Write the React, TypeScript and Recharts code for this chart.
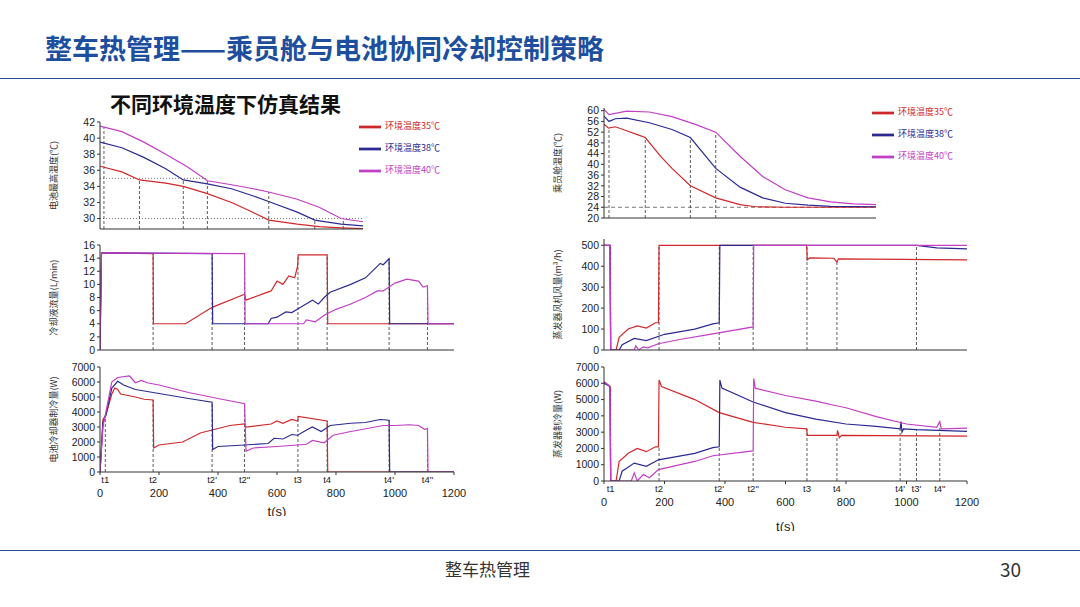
import React from "react";
import { Legend, Line, LineChart, ReferenceLine, XAxis, YAxis } from "recharts";

type Pt = [number, number];

const seriesNames = ["环境温度35℃", "环境温度38℃", "环境温度40℃"];
const colors = ["#d0282a", "#2b2a92", "#c23ec4"];
const xTicks = [0, 200, 400, 600, 800, 1000, 1200];

// left column: battery
const batTemp35: Pt[] = [[0, 36.5], [100, 35.8], [180, 34.8], [300, 34.4], [380, 34.0], [490, 33.1], [600, 32.0], [680, 31.0], [770, 29.8], [900, 29.3], [1000, 29.0], [1100, 28.85], [1200, 28.75]];
const batTemp38: Pt[] = [[0, 39.5], [100, 38.8], [200, 37.6], [300, 36.2], [380, 34.8], [490, 34.3], [600, 33.7], [700, 32.8], [800, 31.8], [900, 30.8], [980, 29.8], [1100, 29.3], [1200, 29.1]];
const batTemp40: Pt[] = [[0, 41.5], [100, 40.8], [200, 39.5], [300, 38.0], [400, 36.4], [490, 34.7], [600, 34.2], [700, 33.7], [770, 33.3], [900, 32.4], [1000, 31.4], [1100, 30.0], [1200, 29.6]];

const flow35: Pt[] = [[0, 0], [5, 14.8], [180, 14.7], [181, 4], [290, 4], [380, 6.5], [490, 8.5], [495, 7.6], [580, 9], [600, 10.5], [620, 10], [640, 11.3], [660, 11], [670, 12.8], [672, 14.5], [770, 14.5], [772, 4], [1200, 4]];
const flow38: Pt[] = [[0, 0], [5, 14.8], [380, 14.7], [382, 4], [570, 4], [580, 4.8], [600, 5], [630, 5.8], [650, 5.7], [680, 6.5], [720, 7.6], [740, 7], [760, 8], [780, 8.8], [850, 10], [900, 11], [950, 13.2], [960, 13], [980, 13.9], [982, 4], [1200, 4]];
const flow40: Pt[] = [[0, 0], [5, 14.8], [490, 14.7], [492, 4], [690, 4], [700, 4.6], [730, 4.3], [760, 5.3], [800, 6.2], [850, 7], [900, 8], [940, 9], [960, 9], [1000, 10.2], [1040, 10.8], [1080, 10.5], [1095, 9.6], [1110, 9.8], [1112, 4], [1200, 4]];

const chiller35: Pt[] = [[0, 0], [10, 3500], [20, 3800], [40, 5200], [50, 5600], [60, 5500], [70, 5200], [120, 5000], [150, 4850], [180, 4800], [182, 1600], [200, 1800], [280, 2000], [340, 2600], [380, 2800], [440, 3100], [490, 3200], [495, 3000], [580, 3200], [600, 3400], [620, 3250], [650, 3500], [670, 3400], [672, 3700], [770, 3400], [772, 0], [1200, 0]];
const chiller38: Pt[] = [[0, 0], [10, 3300], [20, 3800], [40, 5600], [60, 6050], [80, 5800], [120, 5500], [180, 5300], [300, 4900], [380, 4650], [382, 1500], [400, 1700], [490, 1800], [570, 1900], [590, 2250], [620, 2200], [650, 2500], [670, 2450], [700, 2800], [720, 3000], [750, 2700], [780, 3100], [850, 3250], [900, 3300], [950, 3500], [980, 3450], [982, 0], [1200, 0]];
const chiller40: Pt[] = [[0, 0], [10, 3000], [40, 6000], [60, 6300], [100, 6400], [120, 5950], [140, 6100], [160, 5950], [200, 5800], [300, 5300], [400, 4900], [490, 4550], [495, 1400], [520, 1600], [600, 1700], [670, 1800], [700, 1850], [720, 2100], [760, 1950], [790, 2450], [850, 2700], [920, 2950], [960, 3100], [1000, 3100], [1050, 3150], [1080, 3100], [1100, 2850], [1110, 2900], [1112, 0], [1200, 0]];

// right column: cabin
const cabin35: Pt[] = [[0, 55], [20, 53.5], [50, 54], [100, 52.5], [150, 51], [182, 50], [250, 43], [300, 38.5], [381, 32], [493, 27.5], [600, 25], [670, 24.2], [800, 24], [1200, 24]];
const cabin38: Pt[] = [[0, 58], [22, 56], [50, 57], [100, 57.2], [200, 55.5], [300, 53], [381, 50], [493, 38.5], [600, 31.5], [700, 27.5], [800, 25.5], [900, 24.8], [1000, 24.3], [1200, 24.2]];
const cabin40: Pt[] = [[0, 60.5], [22, 58.5], [100, 59.8], [200, 59.5], [300, 57.8], [400, 55], [493, 52], [600, 43], [700, 35.5], [800, 30.5], [900, 27.5], [1000, 26], [1100, 25.3], [1200, 25]];

const fan35: Pt[] = [[0, 500], [20, 500], [22, 0], [40, 0], [50, 60], [80, 100], [110, 115], [140, 105], [170, 130], [180, 130], [182, 500], [670, 500], [672, 430], [680, 440], [760, 438], [770, 420], [775, 435], [1200, 430]];
const fan38: Pt[] = [[0, 500], [20, 500], [22, 0], [50, 0], [60, 25], [100, 55], [140, 45], [200, 75], [300, 100], [360, 125], [381, 130], [383, 500], [1033, 500], [1100, 488], [1200, 483]];
const fan40: Pt[] = [[0, 500], [20, 500], [22, 0], [100, 0], [105, 20], [115, 0], [130, 15], [145, 10], [180, 30], [250, 50], [350, 75], [493, 110], [495, 500], [1200, 500]];

const evap35: Pt[] = [[0, 6100], [20, 5800], [22, 0], [40, 0], [50, 1200], [80, 1700], [110, 2000], [140, 1800], [170, 2100], [180, 2100], [182, 6200], [190, 5800], [300, 5000], [381, 4200], [493, 3600], [600, 3300], [670, 3200], [672, 2800], [770, 2800], [772, 3100], [778, 2650], [785, 2800], [1200, 2750]];
const evap38: Pt[] = [[0, 6000], [20, 5800], [22, 0], [50, 0], [60, 600], [100, 1100], [140, 900], [180, 1300], [300, 1700], [360, 2050], [381, 2100], [383, 6200], [390, 5700], [493, 4850], [600, 4200], [700, 3800], [800, 3500], [900, 3350], [979, 3200], [982, 3650], [985, 3000], [990, 3200], [1033, 3150], [1200, 3050]];
const evap40: Pt[] = [[0, 6100], [20, 5800], [22, 0], [90, 0], [100, 500], [110, 0], [130, 400], [150, 200], [180, 700], [300, 1200], [360, 1550], [493, 1850], [495, 6300], [500, 5700], [600, 5250], [700, 4900], [760, 4650], [800, 4500], [900, 3950], [1000, 3500], [1100, 3300], [1110, 3650], [1115, 3200], [1200, 3250]];

// event markers: [label, time]; dashed lines as [time, top]
const leftEvents: [string, number][] = [["t1", 18], ["t2", 180], ["t2'", 380], ["t2\"", 490], ["t3", 671], ["t4", 770], ["t4'", 980], ["t4\"", 1110]];
const rightEvents: [string, number][] = [["t1", 22], ["t2", 182], ["t2'", 381], ["t2\"", 493], ["t3", 671], ["t4", 770], ["t4'", 979], ["t3'", 1033], ["t4\"", 1110]];
const batTempMarks: Pt[] = [[18, 41.4], [180, 34.8], [380, 34.8], [490, 34.7], [770, 33.3], [980, 29.8], [1110, 29.9]];
const flowMarks: Pt[] = [[180, 14.7], [380, 14.7], [490, 14.7], [671, 14.5], [770, 14.5], [980, 13.9], [1110, 9.8]];
const chillerMarks: Pt[] = [[18, 3800], [180, 4800], [380, 4650], [490, 4550], [671, 3700], [770, 3400], [980, 3450], [1110, 2900]];
const cabinMarks: Pt[] = [[22, 53.5], [182, 50], [381, 50], [493, 52]];
const fanMarks: Pt[] = [[22, 500], [182, 500], [381, 500], [493, 500], [671, 500], [770, 430], [1033, 500]];
const evapMarks: Pt[] = [[22, 5800], [182, 2100], [381, 2100], [493, 1850], [671, 3200], [770, 2800], [979, 3200], [1033, 3150], [1110, 3250]];

type PanelProps = {
  left: number; top: number; plotW: number; plotH: number;
  domain: [number, number]; ticks: number[]; yLabel: string;
  series: Pt[][]; marks: Pt[]; hLines?: { y: number; x2: number; dash: string }[];
  events?: [string, number][]; legend?: boolean; bottomGap?: number;
};

const Y_W = 56;
const TOP = 10;
const font = { fontSize: 10.5, fill: "#222", fontFamily: "Liberation Sans, Arial" };

function Panel(p: PanelProps) {
  const xH = p.events ? (p.bottomGap ?? 40) : 4;
  const data = p.series.map((s) => s.map(([t, v]) => ({ t, v })));
  return (
    <div style={{ position: "absolute", left: p.left - Y_W, top: p.top - TOP }}>
      <LineChart width={p.plotW + Y_W + 14} height={p.plotH + TOP + xH} margin={{ top: TOP, right: 14, left: 0, bottom: 0 }}>
        <XAxis type="number" dataKey="t" domain={[0, 1200]} ticks={xTicks} height={xH} allowDataOverflow
          tick={p.events ? { ...font, fontSize: 11, dy: 12 } : false} tickSize={3} stroke="#333"
          label={p.events ? { value: "t(s)", position: "insideBottom", offset: 0, style: { ...font, fontSize: 13 } } : undefined} />
        <YAxis type="number" domain={p.domain} ticks={p.ticks} width={Y_W} interval={0} allowDataOverflow
          tick={font} tickSize={3} stroke="#333"
          label={{ value: p.yLabel, angle: -90, position: "insideLeft", offset: 10, style: { fontSize: 9, fill: "#333", textAnchor: "middle" } }} />
        {p.hLines?.map((h, i) => (
          <ReferenceLine key={"h" + i} segment={[{ x: 0, y: h.y }, { x: h.x2, y: h.y }]} stroke="#555" strokeDasharray={h.dash} strokeWidth={0.8} />
        ))}
        {p.marks.map(([t, v], i) => (
          <ReferenceLine key={"m" + i} segment={[{ x: t, y: p.domain[0] }, { x: t, y: v }]} stroke="#333" strokeDasharray="3 2" strokeWidth={0.8} />
        ))}
        {p.events?.map(([name, t]) => (
          <ReferenceLine key={name} x={t} stroke="none" label={{ value: name, position: "bottom", offset: 4, style: { ...font, fontSize: 9.5 } }} />
        ))}
        {data.map((d, i) => (
          <Line key={i} data={d} dataKey="v" name={seriesNames[i]} type="linear" stroke={colors[i]} strokeWidth={1.2} dot={false} isAnimationActive={false} />
        ))}
        {p.legend && (
          <Legend layout="vertical" align="right" verticalAlign="top" iconType="plainline" iconSize={22}
            wrapperStyle={{ top: 4, right: 18, fontSize: 9, lineHeight: "12px", color: "#333" }} />
        )}
      </LineChart>
    </div>
  );
}

export default function App() {
  return (
    <div style={{ position: "absolute", left: 0, top: 0, width: 1080, height: 607, background: "#fff", fontFamily: "Noto Sans CJK SC, sans-serif", overflow: "hidden" }}>
      <div style={{ position: "absolute", left: 45, top: 28, fontSize: 27, fontWeight: 700, color: "#1d4f9e", whiteSpace: "nowrap" }}>整车热管理——乘员舱与电池协同冷却控制策略</div>
      <div style={{ position: "absolute", left: 0, top: 78, width: 1080, height: 1, background: "#2c4f8c" }} />
      <div style={{ position: "absolute", left: 110, top: 88, fontSize: 21, fontWeight: 700, color: "#111" }}>不同环境温度下仿真结果</div>

      <Panel left={100} top={122} plotW={354} plotH={107} domain={[28.7, 42]} ticks={[30, 32, 34, 36, 38, 40, 42]} yLabel="电池最高温度(℃)"
        series={[batTemp35, batTemp38, batTemp40]} marks={batTempMarks} legend
        hLines={[{ y: 35, x2: 490, dash: "1 2" }, { y: 30, x2: 1200, dash: "1 2" }]} />
      <Panel left={100} top={245} plotW={354} plotH={105} domain={[0, 16]} ticks={[0, 2, 4, 6, 8, 10, 12, 14, 16]} yLabel="冷却液流量(L/min)"
        series={[flow35, flow38, flow40]} marks={flowMarks} />
      <Panel left={100} top={367} plotW={354} plotH={105} domain={[0, 7000]} ticks={[0, 1000, 2000, 3000, 4000, 5000, 6000, 7000]} yLabel="电池冷却器制冷量(W)"
        series={[chiller35, chiller38, chiller40]} marks={chillerMarks} events={leftEvents} bottomGap={44} />

      <Panel left={604} top={108} plotW={363} plotH={110} domain={[20, 61]} ticks={[20, 24, 28, 32, 36, 40, 44, 48, 52, 56, 60]} yLabel="乘员舱温度(℃)"
        series={[cabin35, cabin38, cabin40]} marks={cabinMarks} legend
        hLines={[{ y: 24, x2: 1200, dash: "4 3" }]} />
      <Panel left={604} top={239} plotW={363} plotH={111} domain={[0, 530]} ticks={[0, 100, 200, 300, 400, 500]} yLabel="蒸发器风机风量(m³/h)"
        series={[fan35, fan38, fan40]} marks={fanMarks} />
      <Panel left={604} top={367} plotW={363} plotH={114} domain={[0, 7000]} ticks={[0, 1000, 2000, 3000, 4000, 5000, 6000, 7000]} yLabel="蒸发器制冷量(W)"
        series={[evap35, evap38, evap40]} marks={evapMarks} events={rightEvents} bottomGap={50} />

      <div style={{ position: "absolute", left: 0, top: 550, width: 1080, height: 1, background: "#2c4f8c" }} />
      <div style={{ position: "absolute", left: 445, top: 556, fontSize: 17, color: "#333" }}>整车热管理</div>
      <div style={{ position: "absolute", left: 1000, top: 555, fontSize: 19, color: "#333" }}>30</div>
    </div>
  );
}
